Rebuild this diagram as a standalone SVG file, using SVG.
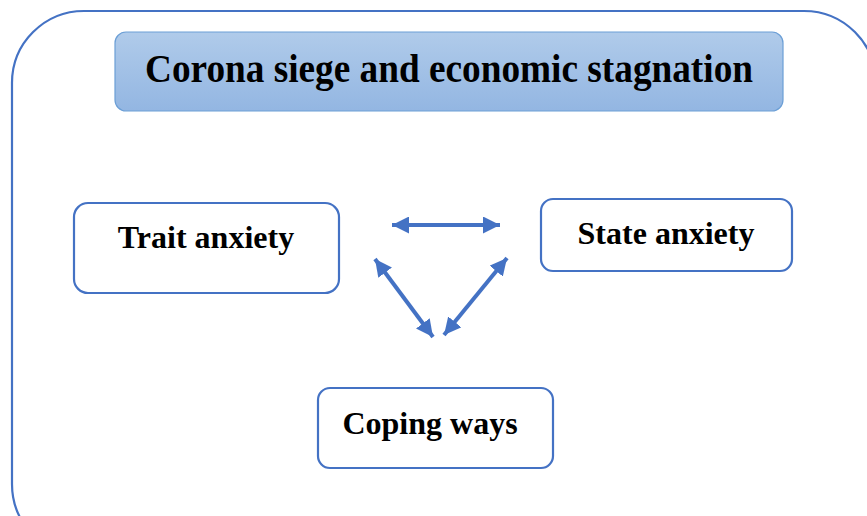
<svg xmlns="http://www.w3.org/2000/svg" width="867" height="516" viewBox="0 0 867 516">
<defs>
<linearGradient id="tg" x1="0" y1="0" x2="0" y2="1">
<stop offset="0" stop-color="#b0cbea"/>
<stop offset="1" stop-color="#93b6e2"/>
</linearGradient>
<marker id="ah" viewBox="0 0 17 17" refX="17" refY="8.5" markerWidth="17" markerHeight="17" markerUnits="userSpaceOnUse" orient="auto-start-reverse">
<path d="M0,0 L17,8.5 L0,17 Z" fill="#4472c4"/>
</marker>
<style>
.box{fill:#ffffff;stroke:#4472c4;stroke-width:2.2}
.lbl{font-family:"Liberation Serif","Times New Roman",serif;font-weight:bold;font-size:32px;fill:#000;text-anchor:middle}
.conn{stroke:#4472c4;stroke-width:4;fill:none;marker-start:url(#ah);marker-end:url(#ah)}
</style>
</defs>
<rect x="0" y="0" width="867" height="516" fill="#ffffff"/>
<g id="frame">
<rect x="12" y="11" width="864" height="545" rx="72" ry="72" fill="none" stroke="#4472c4" stroke-width="2.2"/>
</g>
<g id="title">
<rect x="115" y="32" width="668" height="79" rx="11" ry="11" fill="url(#tg)" stroke="#6c9fd6" stroke-width="1.2"/>
<text x="449" y="82" class="lbl" style="font-size:40px" textLength="608" lengthAdjust="spacingAndGlyphs">Corona siege and economic stagnation</text>
</g>
<g id="trait">
<rect class="box" x="74" y="203" width="265" height="90" rx="14" ry="14"/>
<text x="206" y="248" class="lbl">Trait anxiety</text>
</g>
<g id="state">
<rect class="box" x="541" y="199" width="251" height="72" rx="12" ry="12"/>
<text x="666" y="244" class="lbl">State anxiety</text>
</g>
<g id="coping">
<rect class="box" x="318" y="388" width="235" height="80" rx="12" ry="12"/>
<text x="430" y="434" class="lbl">Coping ways</text>
</g>
<g id="connectors">
<line class="conn" x1="392" y1="225" x2="500" y2="225"/>
<line class="conn" x1="375" y1="259" x2="433" y2="337"/>
<line class="conn" x1="507" y1="258" x2="444" y2="335"/>
</g>
</svg>
